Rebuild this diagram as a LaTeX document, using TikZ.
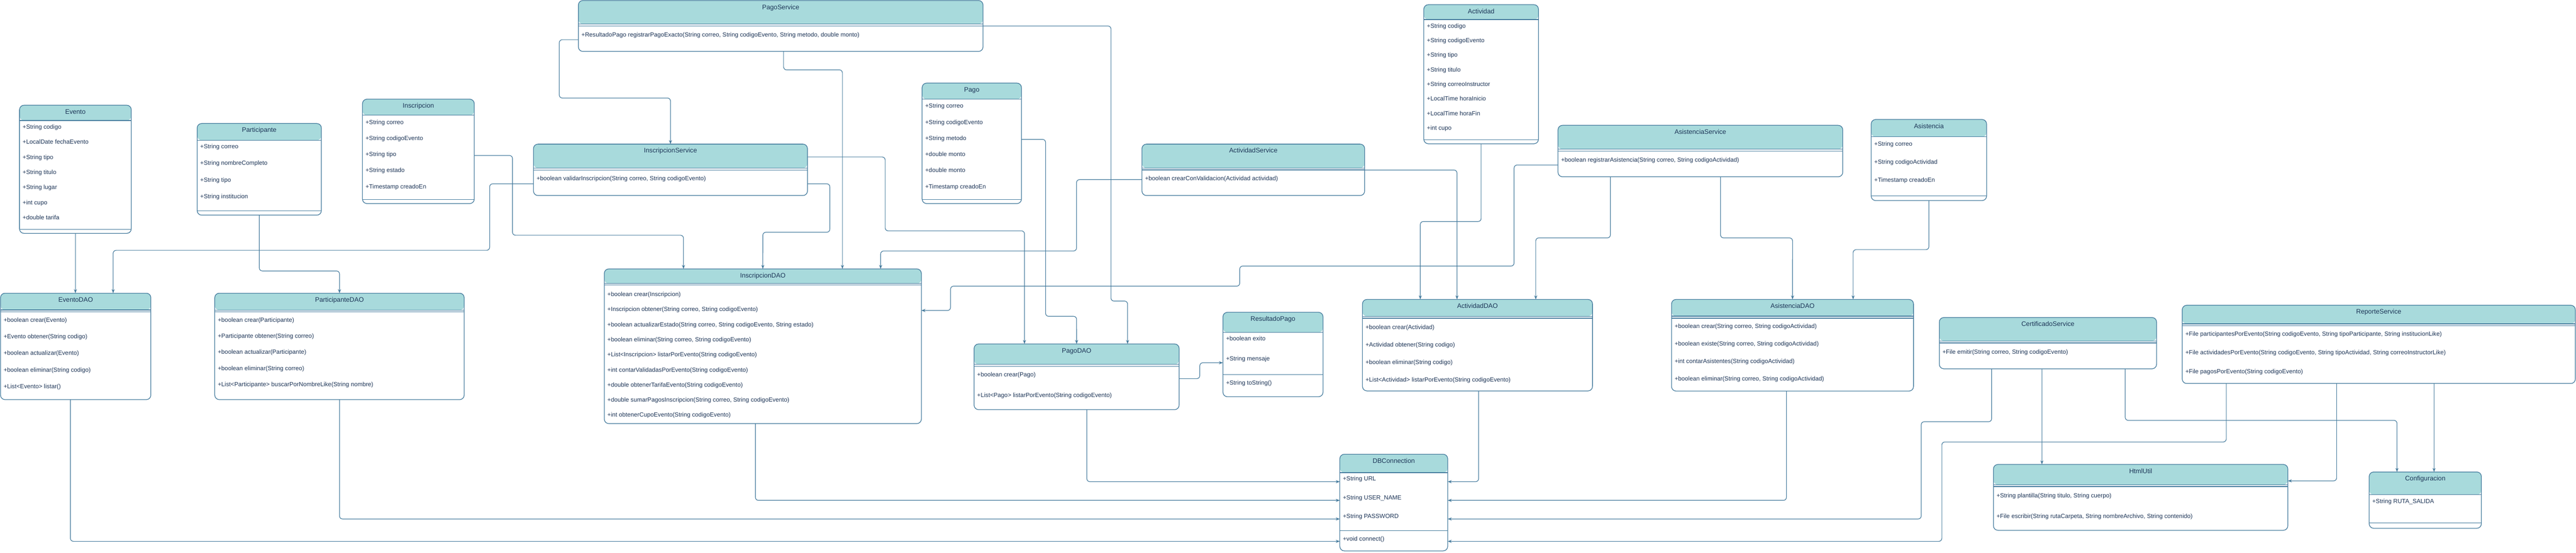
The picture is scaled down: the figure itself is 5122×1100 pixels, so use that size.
\documentclass[tikz,border=0pt]{standalone}
\usepackage{fontspec}
\setmainfont{Liberation Sans}
\usetikzlibrary{arrows.meta}

\definecolor{umlhead}{HTML}{A8DADC}
\definecolor{umlborder}{HTML}{457B9D}
\definecolor{umltext}{HTML}{1D3557}

\tikzset{
  uml/.style 2 args={path picture={
    \fill[umlhead] (path picture bounding box.north west) rectangle ([yshift=-#1*1pt]path picture bounding box.north east);
    \draw[umlborder,line width=1.2pt] ([yshift=-#1*1pt]path picture bounding box.north west) -- ([yshift=-#1*1pt]path picture bounding box.north east);
    \draw[umlborder,line width=1.2pt] ([yshift=-#2*1pt]path picture bounding box.north west) -- ([yshift=-#2*1pt]path picture bounding box.north east);
  }}
}

% name, x1, y1, x2, y2, header, separator, title
\newcommand{\umlclass}[8]{%
  \node[classbox,uml={#6}{#7},minimum width={(#4-#2)*1pt},minimum height={(#5-#3)*1pt}] (#1) at (#2,#3) {};
  \node[classtitle] (#1-title) at ([yshift=-14.5pt]#1.north) {#8};
}
% name, key, first y, step, rows
\newcommand{\umlrows}[5]{%
  \foreach \m [count=\i] in {#5} {
    \pgfmathsetmacro\rowy{#3+(\i-1)*#4}
    \node[classrow] (#1-#2\i) at (#1.west |- 0,\rowy) {\m};
  }
}

\begin{document}
\begin{tikzpicture}[x=1pt,y=-1pt,
    classbox/.style={draw=umlborder,line width=1.3pt,fill=white,rounded corners=9pt,
      inner sep=0pt,outer sep=0pt,anchor=north west},
    classtitle/.style={font=\fontsize{13}{15}\selectfont,text=umltext,inner sep=0pt,
      text height=9pt,text depth=3pt},
    classrow/.style={font=\fontsize{12}{14}\selectfont,text=umltext,inner sep=0pt,
      text height=9pt,text depth=3pt,anchor=west,xshift=6pt},
    link/.style={draw=umlborder,line width=1.2pt,rounded corners=6pt,
      -{Stealth[length=8pt,width=6pt]}}]

    \useasboundingbox (0,0) rectangle (5122,1100);

    \umlclass{evento}{38.8}{209.3}{261}{464.3}{30.4}{247.4}{Evento}
    \umlrows{evento}{a}{253.7}{30}{+String codigo,+LocalDate fechaEvento,+String tipo,+String titulo,
      +String lugar,+int cupo,+double tarifa}

    \umlclass{participante}{392}{245.7}{639}{428}{33.3}{173.6}{Participante}
    \umlrows{participante}{a}{292.7}{33}{+String correo,+String nombreCompleto,+String tipo,+String institucion}

    \umlclass{inscripcion}{720.7}{197.3}{943}{405}{32}{199.7}{Inscripcion}
    \umlrows{inscripcion}{a}{244}{32}{+String correo,+String codigoEvento,+String tipo,+String estado,
      +Timestamp creadoEn}

    \umlclass{eventodao}{1}{583.3}{300}{795}{33.4}{36.7}{EventoDAO}
    \umlrows{eventodao}{m}{637.7}{33}{+boolean crear(Evento),+Evento obtener(String codigo),
      +boolean actualizar(Evento),+boolean eliminar(String codigo),+List<Evento> listar()}

    \umlclass{participantedao}{427}{583.3}{923}{795}{33.7}{36.7}{ParticipanteDAO}
    \umlrows{participantedao}{m}{637.7}{32}{+boolean crear(Participante),+Participante obtener(String correo),
      +boolean actualizar(Participante),+boolean eliminar(String correo),
      +List<Participante> buscarPorNombreLike(String nombre)}

    \umlclass{pagoservice}{1150}{1}{1954.6}{102.3}{46.7}{51}{PagoService}
    \umlrows{pagoservice}{m}{70.3}{0}{{+ResultadoPago registrarPagoExacto(String correo, String codigoEvento, String metodo, double monto)}}

    \umlclass{inscripcionservice}{1060.7}{286.7}{1605.5}{389}{47.6}{51.6}{InscripcionService}
    \umlrows{inscripcionservice}{m}{356}{0}{{+boolean validarInscripcion(String correo, String codigoEvento)}}

    \umlclass{inscripciondao}{1201.5}{535}{1832}{842.7}{29.3}{32}{InscripcionDAO}
    \umlrows{inscripciondao}{m}{586.7}{30}{+boolean crear(Inscripcion),
      {+Inscripcion obtener(String correo, String codigoEvento)},
      {+boolean actualizarEstado(String correo, String codigoEvento, String estado)},
      {+boolean eliminar(String correo, String codigoEvento)},
      +List<Inscripcion> listarPorEvento(String codigoEvento),
      +int contarValidadasPorEvento(String codigoEvento),
      +double obtenerTarifaEvento(String codigoEvento),
      {+double sumarPagosInscripcion(String correo, String codigoEvento)},
      +int obtenerCupoEvento(String codigoEvento)}

    \umlclass{pago}{1833.5}{165.3}{2031}{405}{32}{232}{Pago}
    \umlrows{pago}{a}{212}{32}{+String correo,+String codigoEvento,+String metodo,+double monto,
      +double monto,+Timestamp creadoEn}

    \umlclass{actividadservice}{2270.6}{286.7}{2713.4}{389}{47.6}{51.3}{ActividadService}
    \umlrows{actividadservice}{m}{356}{0}{+boolean crearConValidacion(Actividad actividad)}

    \umlclass{actividad}{2831}{9.3}{3059}{286}{29.7}{269}{Actividad}
    \umlrows{actividad}{a}{52.7}{29}{+String codigo,+String codigoEvento,+String tipo,+String titulo,
      +String correoInstructor,+LocalTime horaInicio,+LocalTime horaFin,+int cupo}

    \umlclass{actividaddao}{2709}{595.7}{3166.5}{777.7}{33.6}{37.3}{ActividadDAO}
    \umlrows{actividaddao}{m}{652}{35}{+boolean crear(Actividad),+Actividad obtener(String codigo),
      +boolean eliminar(String codigo),+List<Actividad> listarPorEvento(String codigoEvento)}

    \umlclass{resultadopago}{2431.6}{621.3}{2630.6}{789.3}{40}{124}{ResultadoPago}
    \umlrows{resultadopago}{a}{675}{40}{+boolean exito,+String mensaje}
    \umlrows{resultadopago}{m}{762.7}{0}{+String toString()}

    \umlclass{pagodao}{1936.8}{684.3}{2344.5}{815}{40.7}{44.7}{PagoDAO}
    \umlrows{pagodao}{m}{746.7}{41}{+boolean crear(Pago),+List<Pago> listarPorEvento(String codigoEvento)}

    \umlclass{dbconnection}{2664}{903.7}{2878.5}{1096}{36.6}{151.6}{DBConnection}
    \umlrows{dbconnection}{a}{953.7}{37}{+String URL,+String USER\_NAME,+String PASSWORD}
    \umlrows{dbconnection}{m}{1073}{0}{+void connect()}

    \umlclass{asistenciaservice}{3097.8}{249.3}{3664}{351.7}{47.4}{51.4}{AsistenciaService}
    \umlrows{asistenciaservice}{m}{319.3}{0}{{+boolean registrarAsistencia(String correo, String codigoActividad)}}

    \umlclass{asistencia}{3720.5}{237.7}{3950}{399}{34.6}{152.3}{Asistencia}
    \umlrows{asistencia}{a}{287}{35.85}{+String correo,+String codigoActividad,+Timestamp creadoEn}

    \umlclass{asistenciadao}{3323.6}{595.7}{3804.7}{778}{33.3}{37.3}{AsistenciaDAO}
    \umlrows{asistenciadao}{m}{650}{35}{{+boolean crear(String correo, String codigoActividad)},
      {+boolean existe(String correo, String codigoActividad)},
      +int contarAsistentes(String codigoActividad),
      {+boolean eliminar(String correo, String codigoActividad)}}

    \umlclass{certificadoservice}{3856}{631.7}{4288}{733.7}{46.6}{50.6}{CertificadoService}
    \umlrows{certificadoservice}{m}{701}{0}{{+File emitir(String correo, String codigoEvento)}}

    \umlclass{reporteservice}{4339}{607.3}{5120.6}{763}{37}{41}{ReporteService}
    \umlrows{reporteservice}{m}{665.7}{37}{{+File participantesPorEvento(String codigoEvento, String tipoParticipante, String institucionLike)},
      {+File actividadesPorEvento(String codigoEvento, String tipoActividad, String correoInstructorLike)},
      +File pagosPorEvento(String codigoEvento)}

    \umlclass{htmlutil}{3963.6}{924}{4549}{1055}{40.3}{44}{HtmlUtil}
    \umlrows{htmlutil}{m}{987}{40.7}{{+String plantilla(String titulo, String cuerpo)},
      {+File escribir(String rutaCarpeta, String nombreArchivo, String contenido)}}

    \umlclass{configuracion}{4710.7}{939}{4933.8}{1051}{45.3}{101.3}{Configuracion}
    \umlrows{configuracion}{a}{998}{0}{+String RUTA\_SALIDA}

    \draw[link] (evento.south) -- (evento.south |- eventodao.north);
    \draw[link] (participante.south) -- (515.5,539) -- (675,539) -- (participantedao.north);
    \draw[link] (inscripcionservice.west |- 0,365.7) -- (973.6,365.7) -- (973.6,498) -- (225,498) -- (eventodao.north -| 225,0);
    \draw[link] (pagoservice.west |- 0,79) -- (1112,79) -- (1112,195) -- (1333.1,195) -- (inscripcionservice.north);
    \draw[link] (pagoservice.south -| 1558,0) -- (1558,139) -- (1675,139) -- (inscripciondao.north -| 1675,0);
    \draw[link] (pagoservice.east |- 0,51.7) -- (2209,51.7) -- (2209,599) -- (2242,599) -- (pagodao.north -| 2242,0);
    \draw[link] (inscripcion.east |- 0,309.3) -- (1019,309.3) -- (1019,468) -- (1359,468) -- (inscripciondao.north -| 1359,0);
    \draw[link] (inscripcionservice.east |- 0,365.7) -- (1650,365.7) -- (1650,462) -- (1516.8,462) -- (inscripciondao.north);
    \draw[link] (inscripcionservice.east |- 0,312.3) -- (1760,312.3) -- (1760,459.3) -- (2037,459.3) -- (pagodao.north -| 2037,0);
    \draw[link] (actividadservice.west |- 0,357.3) -- (2140.5,357.3) -- (2140.5,499.3) -- (1751,499.3) -- (inscripciondao.north -| 1751,0);
    \draw[link] (pago.east |- 0,277.3) -- (2079,277.3) -- (2079,629.3) -- (2140.6,629.3) -- (pagodao.north);
    \draw[link] (actividadservice.east |- 0,338.3) -- (2897,338.3) -- (actividaddao.north -| 2897,0);
    \draw[link] (actividad.south) -- (2945,440.7) -- (2824,440.7) -- (actividaddao.north -| 2824,0);
    \draw[link] (asistenciaservice.south -| 3202,0) -- (3202,473.3) -- (3053.6,473.3) -- (actividaddao.north -| 3053.6,0);
    \draw[link] (asistenciaservice.south -| 3421,0) -- (3421,473.3) -- (3564.2,473.3) -- (asistenciadao.north);
    \draw[link] (asistencia.south) -- (3835.3,496.7) -- (3684.6,496.7) -- (asistenciadao.north -| 3684.6,0);
    \draw[link] (asistenciaservice.west |- 0,328.3) -- (3010.5,328.3) -- (3010.5,529.3) -- (2465,529.3) -- (2465,569.3)
      -- (1890,569.3) -- (1890,617.7) -- (inscripciondao.east |- 0,617.7);
    \draw[link] (pagodao.east |- 0,753.3) -- (2385.6,753.3) -- (2385.6,721.7) -- (resultadopago.west |- 0,721.7);

    \draw[link] (eventodao.south -| 140,0) -- (140,1077) -- (dbconnection.west |- 0,1077);
    \draw[link] (participantedao.south) -- (675,1032.5) -- (dbconnection.west |- 0,1032.5);
    \draw[link] (inscripciondao.south -| 1502,0) -- (1502,995.5) -- (dbconnection.west |- 0,995.5);
    \draw[link] (pagodao.south -| 2161,0) -- (2161,958.3) -- (dbconnection.west |- 0,958.3);
    \draw[link] (actividaddao.south -| 2940,0) -- (2940,958.3) -- (dbconnection.east |- 0,958.3);
    \draw[link] (asistenciadao.south -| 3552,0) -- (3552,995.5) -- (dbconnection.east |- 0,995.5);
    \draw[link] (certificadoservice.south -| 3960,0) -- (3960,839) -- (3820,839) -- (3820,1032.5) -- (dbconnection.east |- 0,1032.5);
    \draw[link] (reporteservice.south -| 4426.5,0) -- (4426.5,879.3) -- (3861,879.3) -- (3861,1077) -- (dbconnection.east |- 0,1077);

    \draw[link] (certificadoservice.south -| 4060,0) -- (htmlutil.north -| 4060,0);
    \draw[link] (certificadoservice.south -| 4225.6,0) -- (4225.6,836.3) -- (4766,836.3) -- (configuracion.north -| 4766,0);
    \draw[link] (reporteservice.south -| 4646,0) -- (4646,956.7) -- (htmlutil.east |- 0,956.7);
    \draw[link] (reporteservice.south -| 4839.7,0) -- (configuracion.north -| 4839.7,0);
\end{tikzpicture}
\end{document}
